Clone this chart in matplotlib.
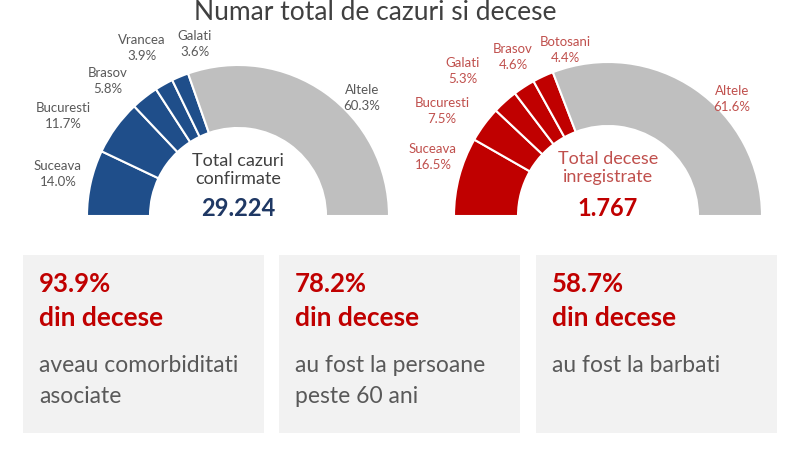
import matplotlib
matplotlib.use("Agg")
import matplotlib.pyplot as plt
from matplotlib.patches import Rectangle

plt.rcParams['font.family'] = ['Lato', 'DejaVu Sans']

# data
cazuri_judete = ["Suceava", "Bucuresti", "Brasov", "Vrancea", "Galati", "Altele"]
cazuri_pct = [14.0, 11.7, 5.8, 3.9, 3.6, 60.3]
cazuri_total = "29.224"

decese_judete = ["Suceava", "Bucuresti", "Galati", "Brasov", "Botosani", "Altele"]
decese_pct = [16.5, 7.5, 5.3, 4.6, 4.4, 61.6]
decese_total = "1.767"

box_pct = ["93.9%", "78.2%", "58.7%"]
box_text = [["aveau comorbiditati", "asociate"],
            ["au fost la persoane", "peste 60 ani"],
            ["au fost la barbati"]]

# layout (pixels, y down)
blue = "#1F4E8A"
red = "#C00000"
red_lbl = "#C0504D"
grey = "#BFBFBF"
txt_grey = "#595959"

left_lbl_xy = [(58, 174), (63, 116), (108, 81), (142, 48), (195, 44), (362, 98)]
right_lbl_xy = [(433, 157), (442, 111), (463, 71), (513, 57), (565, 50), (732, 99)]

fig = plt.figure(figsize=(8, 4.5), dpi=100)
ax = fig.add_axes([0, 0, 1, 1])


def half_donut(vals, col, center, R, r):
    n = len(vals)
    colors = [col] * (n - 1) + [grey, "white"]
    wedges, _ = ax.pie(vals + [sum(vals)], startangle=180, counterclock=True,
                       colors=colors, center=center, radius=R,
                       wedgeprops=dict(width=R - r, edgecolor="white", linewidth=1.5))
    wedges[-1].set_visible(False)
    return wedges


half_donut(cazuri_pct, blue, (238, 216), 151, 88)
half_donut(decese_pct, red, (608, 216), 154, 90)

for name, p, (x, y) in zip(cazuri_judete, cazuri_pct, left_lbl_xy):
    ax.text(x, y, "%s\n%.1f%%" % (name, p), ha="center", va="center",
            fontsize=9.5, color=txt_grey, linespacing=1.35)
for name, p, (x, y) in zip(decese_judete, decese_pct, right_lbl_xy):
    ax.text(x, y, "%s\n%.1f%%" % (name, p), ha="center", va="center",
            fontsize=9.5, color=red_lbl, linespacing=1.35)

ax.text(238, 170, "Total cazuri\nconfirmate", ha="center", va="center",
        fontsize=13, color="#404040", linespacing=1.15)
ax.text(238, 208, cazuri_total, ha="center", va="center", fontsize=17,
        fontweight="bold", color="#1F3864")
ax.text(608, 168, "Total decese\ninregistrate", ha="center", va="center",
        fontsize=13, color=red_lbl, linespacing=1.15)
ax.text(608, 208, decese_total, ha="center", va="center", fontsize=17,
        fontweight="bold", color=red)

ax.text(375, 20, "Numar total de cazuri si decese", ha="center", va="baseline",
        fontsize=19, color="#404040")

box_x = [23, 279, 536]
for bx, pct, lines in zip(box_x, box_pct, box_text):
    ax.add_patch(Rectangle((bx, 255), 241, 178, facecolor="#F2F2F2", edgecolor="none"))
    ax.text(bx + 16, 292, pct, ha="left", va="baseline", fontsize=18.5,
            fontweight="bold", color=red)
    ax.text(bx + 16, 326, "din decese", ha="left", va="baseline", fontsize=19,
            fontweight="bold", color=red)
    for i, t in enumerate(lines):
        ax.text(bx + 16, 372 + 31 * i, t, ha="left", va="baseline", fontsize=16.5,
                color=txt_grey)

ax.set_xlim(0, 800)
ax.set_ylim(450, 0)
ax.set_aspect("auto")
ax.axis("off")

fig.savefig("out.png", dpi=100)
